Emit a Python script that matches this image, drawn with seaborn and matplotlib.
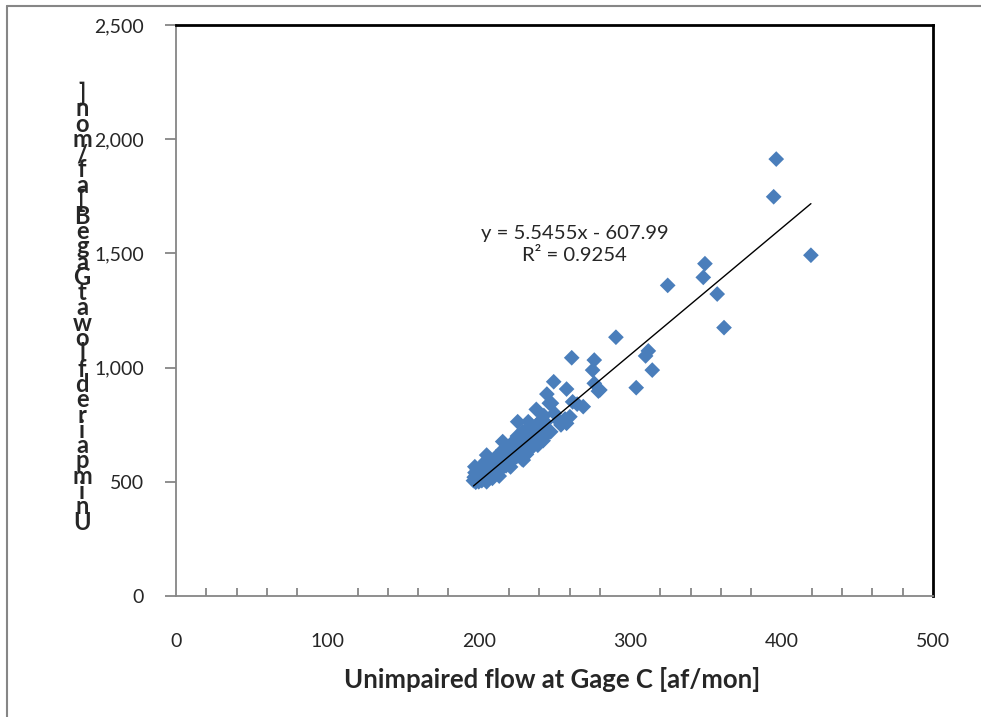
import numpy as np
import pandas as pd
import matplotlib
matplotlib.use("Agg")
import matplotlib.pyplot as plt
from matplotlib.lines import Line2D
from matplotlib.ticker import MultipleLocator, FuncFormatter
import seaborn as sns

# ---- data (af/mon) ----------------------------------------------------------
# sparse upper points
gage_c_hi = [396.5, 394.8, 419.4, 349.4, 348.3, 324.8, 357.5, 362.0, 290.6, 312.0,
             310.2, 314.6, 304.0, 280.0, 261.4, 276.3, 275.2, 276.3, 279.0, 249.5,
             258.0, 245.0, 246.6, 238.0, 269.0, 260.2, 254.3, 247.5, 225.7, 262.0,
             265.0, 257.0, 250.0, 243.0, 240.0, 253.0, 232.7, 248.0, 258.0]
gage_b_hi = [1913, 1748, 1492, 1455, 1395, 1360, 1322, 1175, 1133, 1073,
             1051, 989, 912, 902, 1043, 1033, 989, 931, 897, 938,
             906, 884, 844, 817, 829, 785, 749, 719, 763, 850,
             840, 775, 800, 790, 760, 765, 763, 844, 756]
# dense cluster near the low end
gage_c_lo = [196.5, 197, 197.5, 198, 198.5, 199, 199.5, 200, 200.5, 201, 201.5, 202,
             202.5, 203, 203.5, 204, 204.5, 205, 205.5, 206, 206.5, 207, 207.5, 208,
             208.5, 209, 209.5, 210, 210.5, 211, 211.5, 212, 212.5, 213, 213.5, 214,
             214.5, 215, 215.5, 216, 216.5, 217, 217.5, 218, 218.5, 219, 219.5, 220,
             220.5, 221, 221.5, 222, 222.5, 223, 223.5, 224, 224.5, 225, 225.5, 226,
             226.5, 227, 227.5, 228, 228.5, 229, 229.5, 230, 230.5, 231, 231.5, 232,
             232.5, 233, 233.5, 234, 234.5, 235, 235.5, 236, 236.5, 237, 237.5, 238,
             238.5, 239, 239.5, 240, 240.5, 241, 241.5, 242, 242.5, 243, 243.5, 244,
             244.5, 245, 205.2, 215.8, 229.4, 197.4, 197.8, 205.2]
gage_b_lo = [505, 520, 540, 498, 530, 555, 512, 500, 545, 525, 560, 505,
             535, 575, 515, 550, 590, 530, 510, 565, 545, 600, 525, 580,
             555, 515, 570, 595, 540, 560, 610, 580, 550, 600, 525, 575,
             620, 590, 560, 640, 605, 580, 625, 570, 600, 650, 615, 590,
             630, 565, 665, 610, 640, 600, 680, 625, 655, 610, 700, 640,
             670, 620, 690, 655, 600, 720, 640, 675, 700, 650, 620, 690,
             730, 665, 640, 710, 680, 745, 655, 700, 725, 670, 690, 740,
             715, 660, 700, 730, 765, 690, 715, 750, 680, 725, 700, 760,
             735, 710, 617, 676, 595, 566, 522, 500]

gage_c = gage_c_hi + gage_c_lo
gage_b = gage_b_hi + gage_b_lo

# trendline as reported on the chart
slope, intercept, r2 = 5.5455, -607.99, 0.9254

x_label = "Unimpaired flow at Gage C [af/mon]"
y_label = "Unimpaired flow at Gage B [af/mon]"

df = pd.DataFrame({"gage_c": gage_c, "gage_b": gage_b})

# ---- plot ----------------------------------------------------------------------
sns.set_style("white")
plt.rcParams["font.family"] = ["Lato", "DejaVu Sans"]

fig = plt.figure(figsize=(9.81, 7.17), dpi=100)
ax = fig.add_axes([0.1794, 0.1688, 0.7716, 0.7963])

sns.scatterplot(data=df, x="gage_c", y="gage_b", marker="D", s=64,
                color="#4A7EBB", edgecolor="none", ax=ax, zorder=3)

xs = np.array([df["gage_c"].min(), df["gage_c"].max()])
ax.plot(xs, slope * xs + intercept, color="black", lw=1, zorder=4)

ax.set_xlim(0, 500)
ax.set_ylim(0, 2500)
ax.xaxis.set_major_locator(MultipleLocator(100))
ax.xaxis.set_minor_locator(MultipleLocator(20))
ax.yaxis.set_major_locator(MultipleLocator(500))
ax.yaxis.set_major_formatter(FuncFormatter(lambda v, p: f"{v:,.0f}"))

grey = "#868686"
ax.tick_params(axis="x", which="major", direction="inout", length=12, width=1.3,
               color=grey, labelsize=14, pad=21)
ax.tick_params(axis="x", which="minor", direction="in", length=6, width=1.3,
               color=grey, bottom=True)
ax.tick_params(axis="y", which="major", direction="out", length=8, width=1.3,
               color=grey, labelsize=14, pad=15, left=True)

for side in ["left", "bottom"]:
    ax.spines[side].set_color(grey)
    ax.spines[side].set_linewidth(1.3)
for side in ["top", "right"]:
    ax.spines[side].set_color("black")
    ax.spines[side].set_linewidth(2)

ax.set_xlabel(x_label, fontsize=18.5, fontweight="bold")
ax.xaxis.set_label_coords(0.497, -0.147)
ax.xaxis.label.set_va("center")

# y-axis title stacked letter by letter (spaces dropped), as in the source
stacked = "\n".join(c for c in reversed(y_label) if c != " ")
ax.set_ylabel("")
ax.text(-0.124, 0.505, stacked, transform=ax.transAxes, rotation=0,
        ha="center", va="center", multialignment="center",
        fontsize=17, fontweight="bold", linespacing=0.595)

ax.text(0.527, 0.615, f"y = {slope}x - {abs(intercept)}\nR² = {r2}",
        transform=ax.transAxes, ha="center", va="center", fontsize=14.6,
        linespacing=1.35)

# outer chart-area frame
fig.add_artist(Line2D([7 / 981, 7 / 981], [0, 1 - 6 / 717], transform=fig.transFigure,
                      color=grey, lw=1.5))
fig.add_artist(Line2D([7 / 981, 1], [1 - 6 / 717, 1 - 6 / 717], transform=fig.transFigure,
                      color=grey, lw=1.5))

fig.savefig("out.png", dpi=100)
